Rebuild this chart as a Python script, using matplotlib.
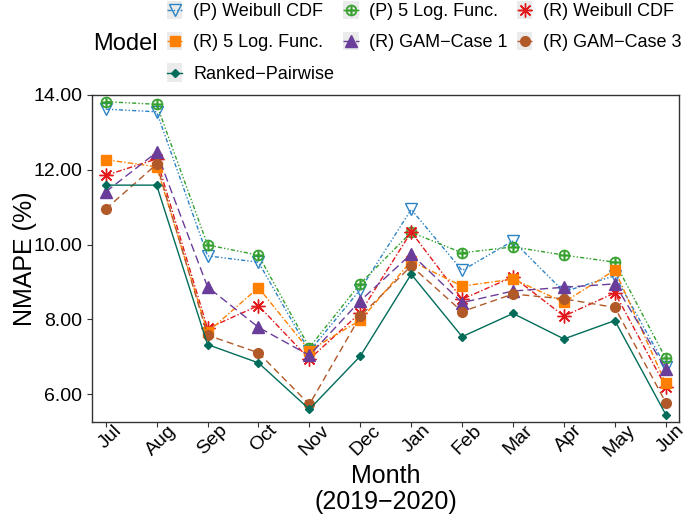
import matplotlib
matplotlib.use("Agg")
import matplotlib.pyplot as plt
import matplotlib.transforms as mtransforms
from matplotlib.patches import Rectangle
from matplotlib.legend_handler import HandlerLine2D

plt.rcParams['font.family'] = ['Liberation Sans', 'DejaVu Sans']

months = ["Jul", "Aug", "Sep", "Oct", "Nov", "Dec", "Jan", "Feb", "Mar", "Apr", "May", "Jun"]

p_weibull = [13.62, 13.55, 9.70, 9.53, 7.15, 8.80, 10.94, 9.31, 10.10, 8.74, 9.17, 6.74]
p_5log = [13.82, 13.75, 9.99, 9.72, 7.25, 8.96, 10.33, 9.78, 9.94, 9.72, 9.53, 6.96]
r_weibull = [11.85, 12.29, 7.76, 8.37, 6.94, 8.18, 10.34, 8.54, 9.14, 8.09, 8.71, 6.20]
r_5log = [12.27, 12.08, 7.66, 8.85, 7.17, 7.98, 9.56, 8.89, 9.08, 8.46, 9.32, 6.29]
gam_case1 = [11.41, 12.47, 8.87, 7.79, 7.04, 8.50, 9.75, 8.45, 8.76, 8.86, 8.95, 6.67]
gam_case3 = [10.95, 12.15, 7.58, 7.11, 5.73, 8.09, 9.43, 8.21, 8.68, 8.55, 8.32, 5.78]
ranked = [11.59, 11.59, 7.33, 6.84, 5.60, 7.02, 9.21, 7.54, 8.16, 7.48, 7.97, 5.46]

# label, values, colour, marker, linestyle, marker size, filled
series = [
    ("(P) Weibull CDF", p_weibull, "#2b83c6", "v", (0, (3, 1.5, 1, 1.5, 1, 1.5)), 9, False),
    ("(P) 5 Log. Func.", p_5log, "#33a02c", r"$\oplus$", (0, (3, 1.5, 1, 1.5, 1, 1.5)), 8, True),
    ("(R) Weibull CDF", r_weibull, "#e31a1c", (8, 2, 0), (0, (4, 1.5, 1, 1.5)), 10, True),
    ("(R) 5 Log. Func.", r_5log, "#ff7f00", "s", (0, (4, 1.5, 1, 1.5)), 7, True),
    ("(R) GAM\u2212Case 1", gam_case1, "#6a3d9a", "^", (0, (6, 3)), 8, True),
    ("(R) GAM\u2212Case 3", gam_case3, "#b15928", "o", (0, (5, 3)), 7, True),
    ("Ranked\u2212Pairwise", ranked, "#016c59", "D", "-", 4.5, True),
]


class KeyHandler(HandlerLine2D):
    # grey key background behind each legend marker
    def create_artists(self, legend, orig_handle, xdescent, ydescent,
                       width, height, fontsize, trans):
        arts = super().create_artists(legend, orig_handle, xdescent, ydescent,
                                      width, height, fontsize, trans)
        bg = Rectangle((-xdescent, -ydescent - 2), width, height + 4,
                       facecolor="#ebebeb", edgecolor="none", transform=trans)
        return [bg] + list(arts)


fig = plt.figure(figsize=(6.89, 5.14), dpi=100)
ax = fig.add_axes([0.1335, 0.179, 0.852, 0.637])

x = list(range(len(months)))
handles = {}
for label, vals, color, marker, ls, ms, filled in series:
    kw = dict(markerfacecolor=color) if filled else dict(markerfacecolor="none")
    mew = 0.4 if marker == r"$\oplus$" else 1.0
    ln, = ax.plot(x, vals, color=color, linestyle=ls, linewidth=1.0,
                  marker=marker, markersize=ms, markeredgecolor=color,
                  markeredgewidth=mew, label=label, **kw)
    handles[label] = ln

ax.set_xlim(-0.27, 11.26)
ax.set_ylim(5.26, 14.01)
ax.set_yticks([6, 8, 10, 12, 14])
ax.set_yticklabels(["%.2f" % v for v in [6, 8, 10, 12, 14]])
ax.set_xticks(x)
ax.set_xticklabels(months, rotation=45, ha="center")
ax.tick_params(axis="both", labelsize=14, color="#333333", length=3.5)
ax.tick_params(axis="x", pad=0)
# nudge the rotated month labels up and to the right
shift = mtransforms.ScaledTranslation(0.05, 0.05, fig.dpi_scale_trans)
for lbl in ax.get_xticklabels():
    lbl.set_transform(lbl.get_transform() + shift)
for sp in ax.spines.values():
    sp.set_color("#333333")
    sp.set_linewidth(1.0)

ax.set_ylabel("NMAPE (%)", fontsize=18, labelpad=-3)
ax.set_xlabel("Month\n(2019\u22122020)", fontsize=18, linespacing=1.1, labelpad=3)

# column-major order so rows read left to right
order = ["(P) Weibull CDF", "(R) 5 Log. Func.", "Ranked\u2212Pairwise",
         "(P) 5 Log. Func.", "(R) GAM\u2212Case 1",
         "(R) Weibull CDF", "(R) GAM\u2212Case 3"]
leg = fig.legend([handles[k] for k in order], order, ncol=3, frameon=False,
                 loc="upper left", bbox_to_anchor=(167 / 689, 1 - 3 / 514),
                 borderpad=0, borderaxespad=0,
                 fontsize=13, handlelength=0.85, handletextpad=0.6,
                 columnspacing=0.5, labelspacing=0.8, numpoints=1,
                 handler_map={h: KeyHandler() for h in handles.values()})
fig.text(93 / 689, 1 - 44 / 514, "Model", fontsize=17, va="center", ha="left")

fig.savefig("out.png", dpi=100)
